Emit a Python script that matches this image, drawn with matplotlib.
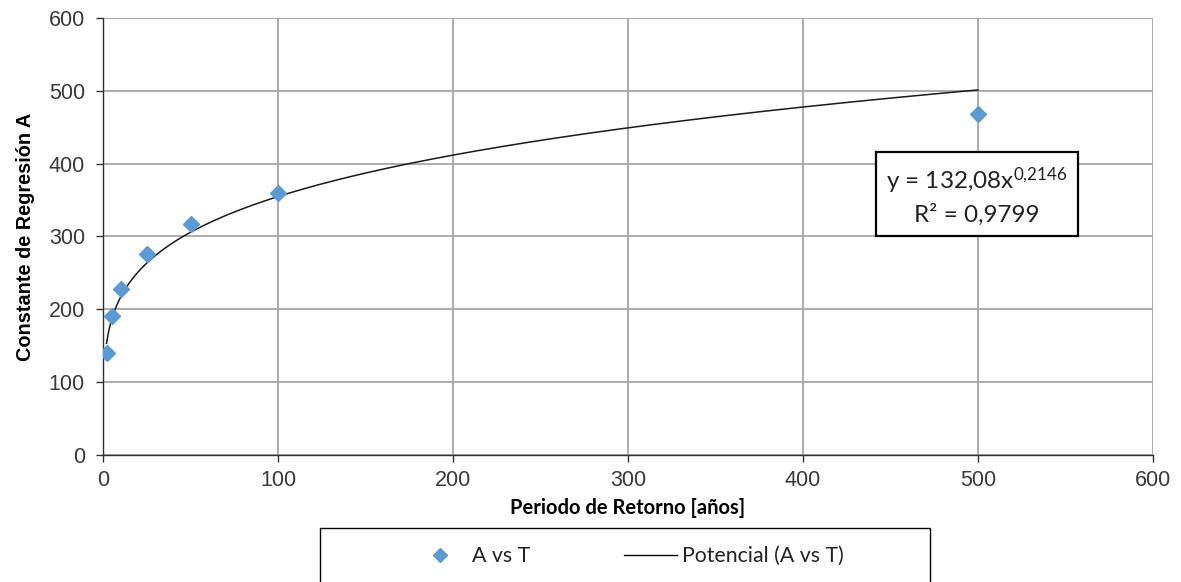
import numpy as np
import matplotlib
matplotlib.use("Agg")
import matplotlib.pyplot as plt
from matplotlib.patches import Rectangle
from matplotlib.lines import Line2D

plt.rcParams["mathtext.default"] = "regular"

# Return period T [years] and regression constant A
periodo = [2, 5, 10, 25, 50, 100, 500]
constante_a = [140, 191, 228, 276, 317, 360, 468]

# Power trend fitted to the data: A = coef * T^expo
coef = 132.08
expo = 0.2146
r2 = 0.9799

x_ticks = [0, 100, 200, 300, 400, 500, 600]
y_ticks = [0, 100, 200, 300, 400, 500, 600]


def coma(valor, dec):
    """Number with a decimal comma."""
    return f"{valor:.{dec}f}".replace(".", ",")


W, H = 1181, 582
fig = plt.figure(figsize=(W / 100, H / 100), dpi=100)
ax = fig.add_axes([103 / W, 1 - 455 / H, (1153 - 103) / W, (455 - 18) / H])

grid_c = "#a6a6a6"
ax.set_xlim(0, 600)
ax.set_ylim(0, 600)
ax.set_xticks(x_ticks)
ax.set_yticks(y_ticks)
ax.grid(True, color=grid_c, linewidth=1.3)
ax.set_axisbelow(True)
for s in ["top", "right"]:
    ax.spines[s].set_visible(False)
for s in ["left", "bottom"]:
    ax.spines[s].set_color("#303030")
    ax.spines[s].set_linewidth(1.0)
ax.tick_params(direction="out", length=5, width=1, color="#303030",
               labelsize=15.5, labelcolor="#3a3a3a")
ax.tick_params(axis="x", pad=6)
ax.tick_params(axis="y", pad=8)
for lab in ax.get_xticklabels() + ax.get_yticklabels():
    lab.set_fontfamily("Liberation Sans")

# Trend curve
tt = np.linspace(min(periodo), max(periodo), 400)
ax.plot(tt, coef * tt ** expo, color="#1a1a1a", linewidth=1.1, zorder=3)

# Data points
ax.plot(periodo, constante_a, linestyle="none", marker="D", markersize=8,
        color="#5b9bd5", zorder=4)

ax.set_xlabel("Periodo de Retorno [años]", fontsize=14.5, fontweight="bold",
              fontfamily="Lato", labelpad=5)
ax.set_ylabel("Constante de Regresión A", fontsize=14.3, fontweight="bold",
              fontfamily="Liberation Sans", labelpad=10)

# Trend equation box
exp_txt = coma(expo, 4).replace(",", "{,}")
eq = f"y = {coma(coef, 2)}x$^{{{exp_txt}}}$\nR² = {coma(r2, 4)}"
ax.text(499.5, 356, eq, ha="center", va="center", fontsize=17.5,
        fontfamily="Lato", linespacing=1.4, color="#222222",
        bbox=dict(boxstyle="square,pad=0.42", facecolor="white",
                  edgecolor="black", linewidth=1.6), zorder=5)

# Legend box at the bottom
fig.patches.append(Rectangle((320 / W, -10 / H), (930 - 320) / W, (582 - 528 + 10) / H,
                             transform=fig.transFigure, facecolor="white",
                             edgecolor="black", linewidth=1.0))
handles = [Line2D([], [], linestyle="none", marker="D", markersize=7, color="#5b9bd5"),
           Line2D([], [], color="black", linewidth=1.0)]
fig.legend(handles, ["A vs T", "Potencial (A vs T)"], ncol=2, frameon=False,
           loc="center", bbox_to_anchor=(629 / W, 1 - 556 / H),
           prop={"family": "Lato", "size": 15.3}, columnspacing=4.4,
           handlelength=2.5, handletextpad=0.25, labelcolor="#222222")

fig.savefig("out.png", dpi=100)
